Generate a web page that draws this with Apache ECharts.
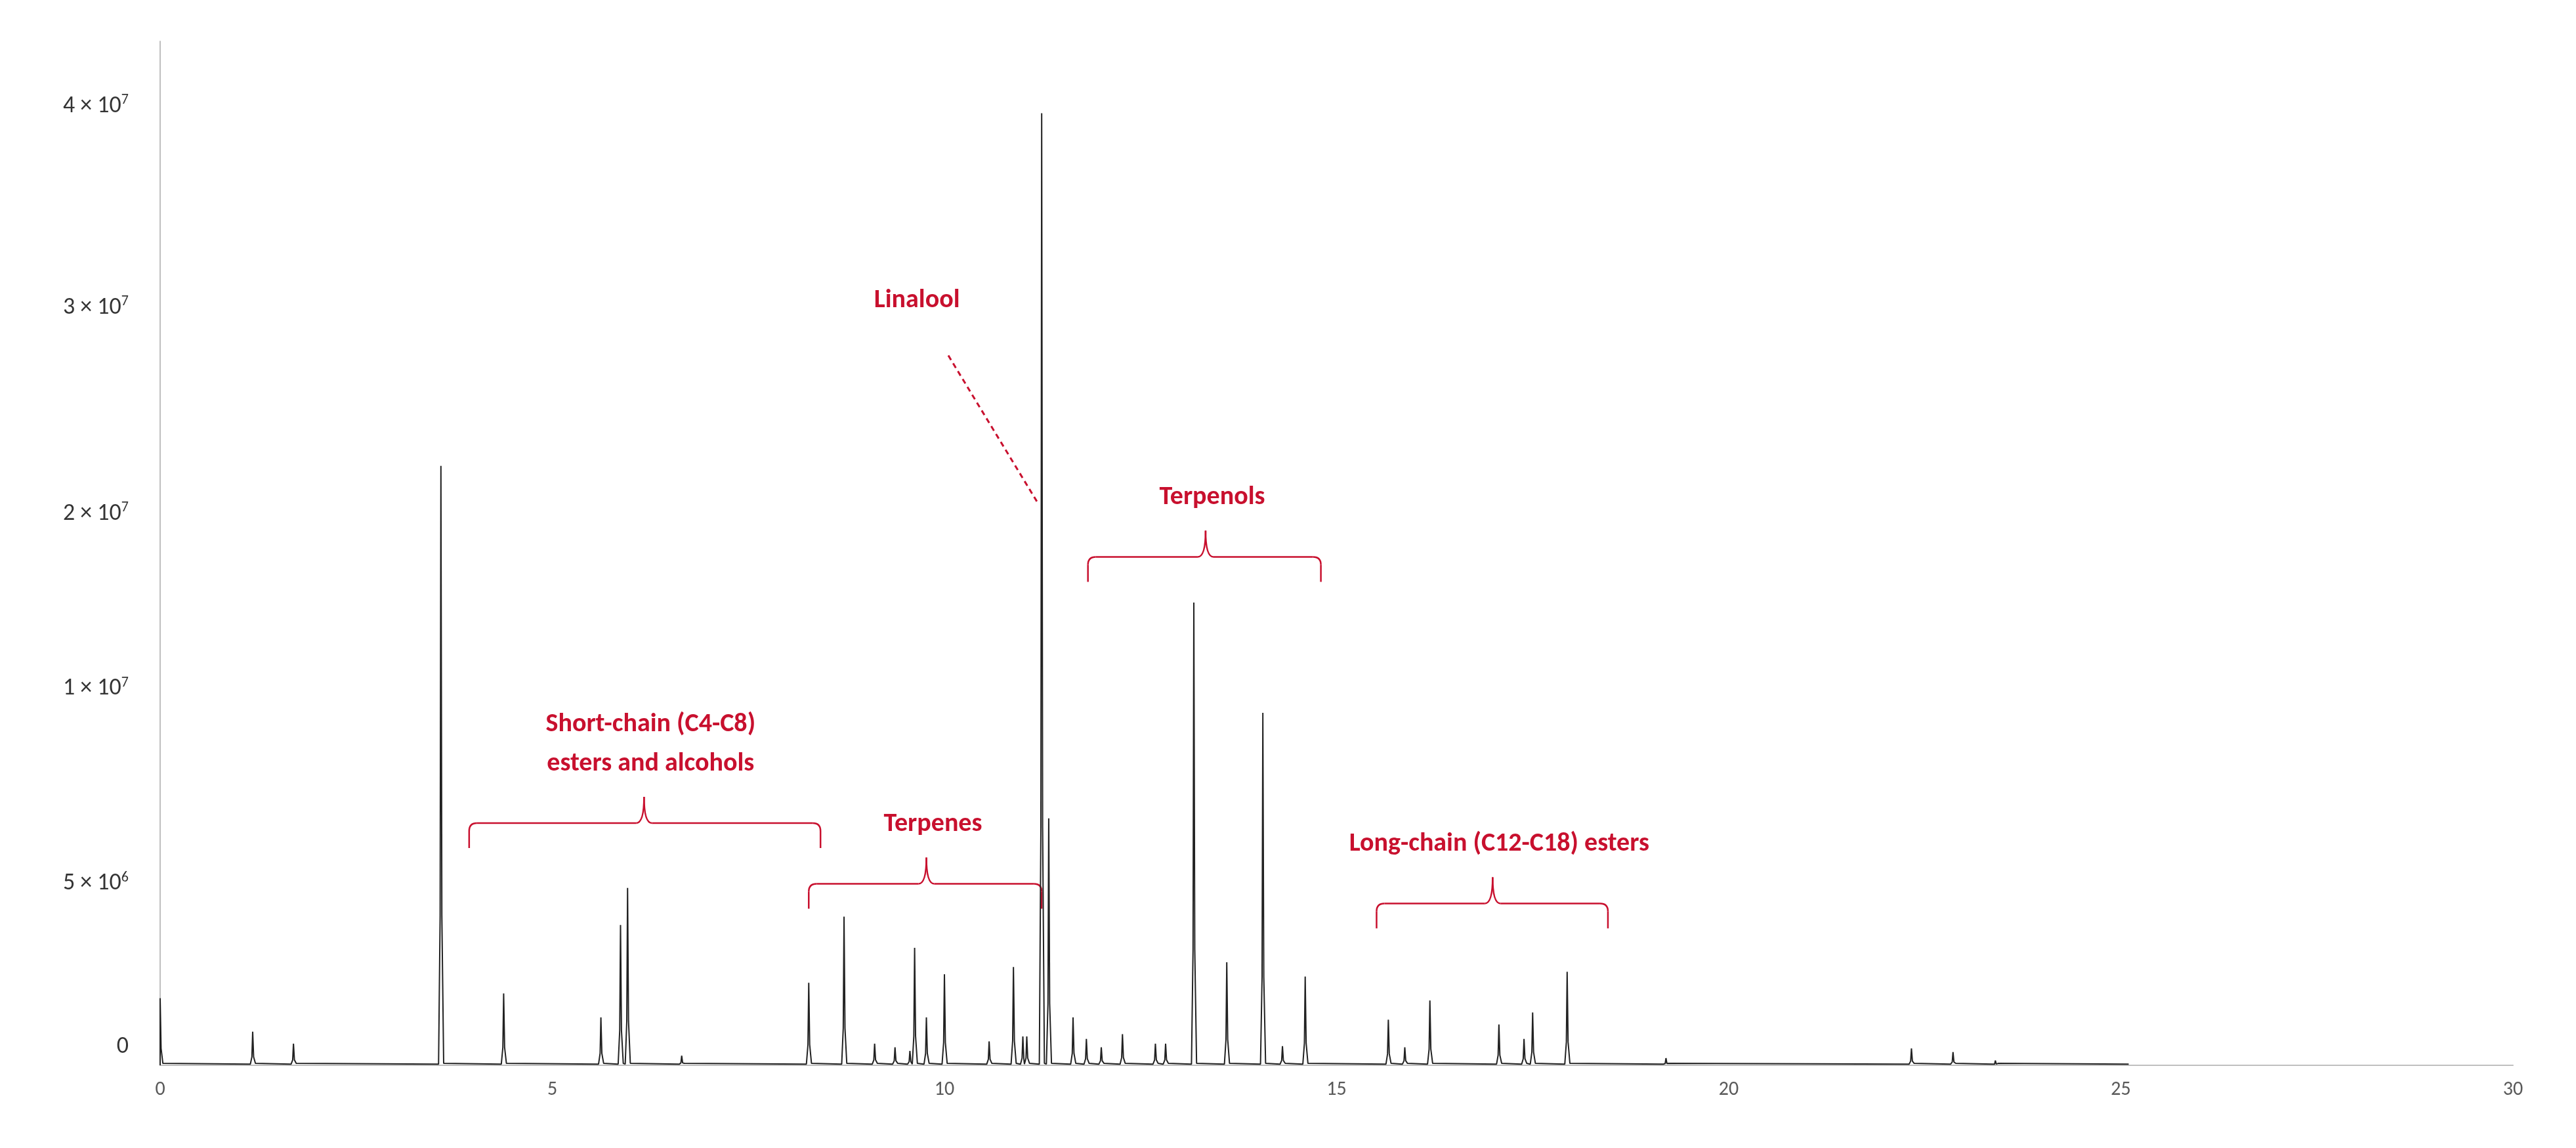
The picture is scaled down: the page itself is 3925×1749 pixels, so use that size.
<!DOCTYPE html>
<html><head><meta charset="utf-8">
<script src="https://cdn.jsdelivr.net/npm/echarts@6/dist/echarts.min.js"></script>
<style>html,body{margin:0;padding:0;background:#fff}#c{width:3925px;height:1749px}</style>
</head><body><div id="c"></div>
<script>
// Values are in the chart's displayed height scale (the reference's y axis is non-linear; 40 = "4 × 10^7" mark)
const peakTimes =   [0, 1.18, 1.7, 3.58, 4.38, 5.62, 5.87, 5.96, 6.65, 8.27, 8.72, 9.11, 9.37, 9.56, 9.62, 9.77, 10.0, 10.57, 10.88, 11.0, 11.05, 11.24, 11.33, 11.64, 11.81, 12.0, 12.27, 12.69, 12.82, 13.18, 13.6, 14.06, 14.31, 14.6, 15.66, 15.87, 16.19, 17.07, 17.39, 17.5, 17.94, 19.2, 22.33, 22.86, 23.4];
const peakHeights = [2.8, 1.4, 0.9, 25.0, 3.0, 2.0, 5.85, 7.4, 0.4, 3.44, 6.2, 0.9, 0.75, 0.6, 4.9, 2.0, 3.8, 1.0, 4.1, 1.2, 1.2, 39.7, 10.3, 2.0, 1.1, 0.75, 1.3, 0.9, 0.9, 19.3, 4.3, 14.7, 0.8, 3.7, 1.9, 0.75, 2.7, 1.7, 1.1, 2.2, 3.9, 0.3, 0.7, 0.55, 0.2];
const traceEnd = 25.1;
const yTickValues = [0.76, 7.57, 15.7, 23.0, 31.6, 40];
const yTickLabels = [['0',''], ['5 × 10','6'], ['1 × 10','7'], ['2 × 10','7'], ['3 × 10','7'], ['4 × 10','7']];
const braces = [
  {x0:3.94, x1:8.42, tip:6.17, y:10.1, text:'Short-chain (C4-C8)\nesters and alcohols'},
  {x0:8.27, x1:11.24, tip:9.77, y:7.57, text:'Terpenes'},
  {x0:11.83, x1:14.8, tip:13.33, y:21.2, text:'Terpenols'},
  {x0:15.51, x1:18.46, tip:16.99, y:6.75, text:'Long-chain (C12-C18) esters'}
];
const linalool = {text:'Linalool', tx:9.65, ty:31.9, from:[10.05, 29.6], to:[11.2, 23.4]};

const pts = [[0,0]];
peakTimes.forEach((t,i)=>{
  const h = peakHeights[i];
  if (t>0) pts.push([t-0.03, 0.05]);
  pts.push([Math.max(0,t-0.01), h*0.25]);
  pts.push([t, h]);
  pts.push([t+0.012, h*0.25]);
  pts.push([t+0.035, 0.08]);
});
pts.push([traceEnd, 0.05]);
pts.sort((a,b)=>a[0]-b[0]);

const chart = echarts.init(document.getElementById('c'));
const red = '#C8102E';
const sans = 'Carlito, Calibri, "Liberation Sans", sans-serif';
chart.setOption({
  animation:false,
  grid:{left:244,right:96,top:63,bottom:126},
  xAxis:{type:'value',min:0,max:30,interval:5,
    axisLine:{lineStyle:{color:'#bfbfbf',width:2}},axisTick:{show:false},splitLine:{show:false},
    axisLabel:{color:'#595959',fontSize:30,fontFamily:sans,margin:22}},
  yAxis:{type:'value',min:0,max:42.7,axisLabel:{show:false},splitLine:{show:false},axisTick:{show:false},
    axisLine:{show:true,lineStyle:{color:'#bfbfbf',width:2}}},
  series:[
    {type:'line',data:pts,showSymbol:false,lineStyle:{color:'#222',width:2},z:3},
    {type:'scatter',symbolSize:0,silent:true,
     data:yTickValues.map((v,i)=>({value:[0,v],label:{formatter:'{a|'+yTickLabels[i][0]+'}{b|'+yTickLabels[i][1]+'}'}})),
     label:{show:true,position:'left',distance:48,
       rich:{a:{fontSize:36,color:'#000',fontFamily:sans},
             b:{fontSize:22,color:'#000',verticalAlign:'top',padding:[0,0,18,0],fontFamily:sans}}}}
  ]
});

function P(x,y){return chart.convertToPixel({gridIndex:0},[x,y]);}
const g = [];
const st = {stroke:red,lineWidth:2.5,fill:null};
function L(x1,y1,x2,y2){g.push({type:'line',shape:{x1,y1,x2,y2},style:st});}
function Q(x1,y1,cx,cy,x2,y2){g.push({type:'bezierCurve',shape:{x1,y1,x2,y2,cpx1:cx,cpy1:cy},style:st});}
braces.forEach(b=>{
  const [a,y]=P(b.x0,b.y), [c]=P(b.x1,b.y), [m]=P(b.tip,b.y);
  const d=38, tu=40, r=12;
  L(a,y+d,a,y+r); Q(a,y+r,a,y,a+r,y); L(a+r,y,m-r,y); Q(m-r,y,m,y,m,y-tu);
  Q(m,y-tu,m,y,m+r,y); L(m+r,y,c-r,y); Q(c-r,y,c,y,c,y+r); L(c,y+r,c,y+d);
  g.push({type:'text',style:{text:b.text,x:m+10,y:y-tu-20,fill:red,font:'bold 40px '+sans,align:'center',verticalAlign:'bottom',lineHeight:60}});
});
const [lx,ly]=P(linalool.tx,linalool.ty);
g.push({type:'text',style:{text:linalool.text,x:lx,y:ly,fill:red,font:'bold 40px '+sans,align:'center',verticalAlign:'middle'}});
const f=P(...linalool.from), t=P(...linalool.to);
g.push({type:'line',shape:{x1:f[0],y1:f[1],x2:t[0],y2:t[1]},style:{stroke:red,lineWidth:3,lineDash:[8,6]}});
chart.setOption({graphic:g});
</script></body></html>
